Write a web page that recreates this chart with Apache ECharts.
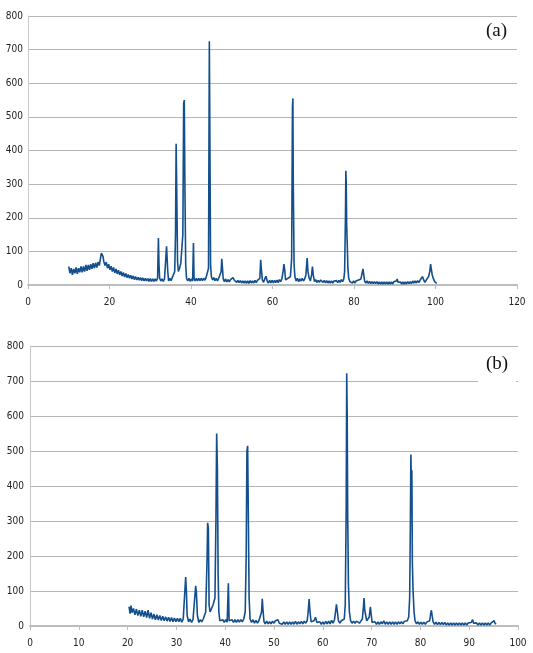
<!DOCTYPE html>
<html>
<head>
<meta charset="utf-8">
<script src="https://cdn.jsdelivr.net/npm/echarts@6/dist/echarts.min.js"></script>
<style>
  html, body { margin: 0; padding: 0; background: #fff; }
  #chart { width: 533px; height: 653px; }
</style>
</head>
<body>
<div id="chart"></div>
<script>
// 2theta (deg) / counts (a)
const scanA = [
  [10.0,55],[10.3,35],[10.6,50],[10.9,30],[11.2,48],[11.5,35],[11.8,52],[12.1,33],[12.4,50],[12.7,38],
  [13.0,55],[13.3,38],[13.6,55],[13.9,40],[14.2,60],[14.5,42],[14.8,60],[15.1,45],[15.4,62],[15.7,48],
  [16.0,65],[16.3,50],[16.6,66],[16.9,52],[17.2,68],[17.5,58],[17.8,80],[18.0,95],[18.2,100],[18.4,85],
  [18.6,70],[18.9,58],[19.2,68],[19.5,50],[19.8,62],[20.1,45],[20.4,56],[20.7,40],[21.0,52],[21.3,36],
  [21.6,48],[21.9,33],[22.2,44],[22.5,30],[22.8,40],[23.1,27],[23.4,37],[23.7,24],[24.0,34],[24.3,22],
  [24.6,31],[24.9,20],[25.2,29],[25.5,18],[25.8,27],[26.1,16],[26.4,25],[26.7,15],[27.0,23],[27.3,14],
  [27.6,22],[27.9,13],[28.2,21],[28.5,12],[28.8,20],[29.1,12],[29.4,19],[29.7,11],[30.0,19],[30.3,11],
  [30.6,18],[30.9,11],[31.2,18],[31.5,12],[31.8,20],[32.0,140],[32.15,60],[32.3,20],[32.6,12],[32.9,18],
  [33.2,11],[33.5,18],[33.8,20],[34.0,115],[34.15,110],[34.3,40],[34.5,12],[34.8,20],[35.1,13],[35.4,22],
  [35.7,20],[36.0,40],[36.2,150],[36.35,420],[36.5,280],[36.7,70],[36.9,40],[37.2,50],[37.5,65],[37.8,60],
  [38.0,150],[38.2,540],[38.35,550],[38.5,300],[38.7,60],[38.9,20],[39.2,12],[39.5,20],[39.8,11],[40.1,18],
  [40.4,12],[40.6,125],[40.75,20],[41.0,12],[41.3,20],[41.6,12],[41.9,20],[42.2,13],[42.5,20],[42.8,13],
  [43.1,20],[43.4,14],[43.7,22],[44.0,22],[44.3,50],[44.5,725],[44.65,400],[44.8,60],[45.0,25],[45.3,15],
  [45.6,22],[45.9,13],[46.2,20],[46.5,12],[46.8,20],[47.1,15],[47.4,40],[47.55,78],[47.7,55],[47.9,18],
  [48.2,10],[48.5,18],[48.8,9],[49.1,16],[49.4,9],[49.7,16],[50.0,12],[50.3,22],[50.6,15],[50.9,20],
  [51.2,8],[51.5,14],[51.8,7],[52.1,13],[52.4,6],[52.7,12],[53.0,6],[53.3,12],[53.6,5],[53.9,12],
  [54.2,5],[54.5,13],[54.8,6],[55.1,12],[55.4,6],[55.7,14],[56.0,7],[56.3,14],[56.6,10],[56.9,20],
  [57.1,75],[57.25,50],[57.5,15],[57.8,8],[58.1,18],[58.4,26],[58.7,12],[59.0,6],[59.3,14],[59.6,6],
  [59.9,14],[60.2,6],[60.5,14],[60.8,7],[61.1,15],[61.4,7],[61.7,16],[62.0,10],[62.3,18],[62.6,40],
  [62.8,62],[63.0,45],[63.2,15],[63.5,12],[63.8,20],[64.1,15],[64.4,25],[64.7,80],[64.9,530],[65.0,555],
  [65.1,300],[65.3,60],[65.5,25],[65.8,12],[66.1,20],[66.4,10],[66.7,18],[67.0,12],[67.3,20],[67.6,12],
  [67.9,18],[68.2,30],[68.5,80],[68.7,40],[69.0,20],[69.3,12],[69.6,30],[69.8,55],[70.0,30],[70.3,10],
  [70.6,16],[70.9,8],[71.2,14],[71.5,8],[71.8,15],[72.1,18],[72.4,8],[72.7,14],[73.0,6],[73.3,13],
  [73.6,6],[73.9,12],[74.2,6],[74.5,12],[74.8,6],[75.1,12],[75.4,7],[75.7,13],[76.0,7],[76.3,14],
  [76.6,8],[76.9,16],[77.2,10],[77.5,18],[77.7,40],[77.9,200],[78.0,340],[78.1,300],[78.2,180],[78.35,120],
  [78.5,50],[78.7,20],[79.0,10],[79.3,14],[79.6,6],[79.9,12],[80.2,6],[80.5,12],[80.8,8],[81.1,15],
  [81.4,10],[81.7,18],[82.0,22],[82.2,48],[82.4,30],[82.6,12],[82.9,6],[83.2,12],[83.5,5],[83.8,11],
  [84.1,4],[84.4,10],[84.7,4],[85.0,10],[85.3,4],[85.6,10],[85.9,3],[86.2,9],[86.5,3],[86.8,9],
  [87.1,3],[87.4,9],[87.7,3],[88.0,9],[88.3,3],[88.6,9],[88.9,3],[89.2,9],[89.5,3],[89.8,10],
  [90.1,6],[90.4,12],[90.6,18],[90.8,8],[91.1,3],[91.4,9],[91.7,3],[92.0,9],[92.3,3],[92.6,9],
  [92.9,3],[93.2,10],[93.5,4],[93.8,10],[94.1,4],[94.4,12],[94.7,6],[95.0,12],[95.3,6],[95.6,13],
  [95.9,7],[96.2,14],[96.5,10],[96.8,25],[97.1,15],[97.4,8],[97.7,14],[98.0,12],[98.3,25],[98.6,40],
  [98.8,62],[99.0,45],[99.2,30],[99.5,18],[99.8,10],[100.1,8],[100.3,5]
];

// pattern (b)
const scanB = [
  [20.3,55],[20.5,35],[20.7,58],[20.9,38],[21.2,50],[21.5,32],[21.8,48],[22.1,30],[22.4,45],[22.7,28],
  [23.0,45],[23.3,26],[23.6,42],[23.9,24],[24.2,45],[24.5,22],[24.8,38],[25.1,20],[25.4,34],[25.7,18],
  [26.0,32],[26.3,17],[26.6,30],[26.9,16],[27.2,28],[27.5,15],[27.8,26],[28.1,14],[28.4,25],[28.7,13],
  [29.0,24],[29.3,12],[29.6,23],[29.9,12],[30.2,22],[30.5,12],[30.8,22],[31.1,11],[31.4,20],[31.7,15],
  [31.9,140],[32.05,100],[32.2,30],[32.5,12],[32.8,20],[33.1,10],[33.4,18],[33.7,15],[33.95,115],[34.1,95],
  [34.3,30],[34.6,10],[34.9,18],[35.2,12],[35.5,20],[35.8,18],[36.0,40],[36.15,120],[36.3,200],[36.4,295],
  [36.55,280],[36.7,60],[36.9,40],[37.2,50],[37.5,60],[37.7,65],[37.9,80],[38.1,300],[38.25,550],[38.4,450],
  [38.55,150],[38.7,40],[38.9,15],[39.2,10],[39.5,18],[39.8,10],[40.1,18],[40.4,11],[40.65,122],[40.8,15],
  [41.1,10],[41.4,18],[41.7,10],[42.0,18],[42.3,10],[42.6,18],[42.9,11],[43.2,18],[43.5,12],[43.8,20],
  [44.1,40],[44.3,200],[44.45,500],[44.6,515],[44.75,300],[44.9,80],[45.1,20],[45.4,10],[45.7,18],[46.0,8],
  [46.3,16],[46.6,8],[46.9,15],[47.2,12],[47.45,40],[47.6,78],[47.75,45],[47.95,12],[48.2,6],[48.5,14],
  [48.8,6],[49.1,12],[49.4,6],[49.7,14],[50.0,8],[50.3,15],[50.6,10],[50.8,18],[51.1,8],[51.4,12],
  [51.7,5],[52.0,12],[52.3,5],[52.6,12],[52.9,5],[53.2,12],[53.5,5],[53.8,12],[54.1,5],[54.4,13],
  [54.7,5],[55.0,12],[55.3,6],[55.6,13],[55.9,6],[56.2,14],[56.5,8],[56.8,15],[57.0,40],[57.2,77],
  [57.35,45],[57.6,12],[57.9,8],[58.2,15],[58.5,25],[58.8,10],[59.1,5],[59.4,12],[59.7,5],[60.0,12],
  [60.3,5],[60.6,13],[60.9,6],[61.2,14],[61.5,6],[61.8,16],[62.1,8],[62.4,18],[62.65,45],[62.8,62],
  [62.95,45],[63.2,15],[63.5,8],[63.8,15],[64.1,10],[64.4,20],[64.6,60],[64.8,350],[64.9,722],[65.0,600],
  [65.1,320],[65.25,120],[65.45,40],[65.7,15],[66.0,8],[66.3,14],[66.6,8],[66.9,14],[67.2,16],[67.5,8],
  [67.8,14],[68.1,20],[68.3,50],[68.45,80],[68.6,45],[68.8,30],[69.0,15],[69.3,10],[69.5,25],[69.75,55],
  [69.9,35],[70.1,10],[70.4,5],[70.7,12],[71.0,5],[71.3,12],[71.6,5],[71.9,12],[72.2,6],[72.5,15],
  [72.8,5],[73.1,12],[73.4,5],[73.7,12],[74.0,5],[74.3,12],[74.6,5],[74.9,12],[75.2,5],[75.5,12],
  [75.8,6],[76.1,12],[76.4,6],[76.7,13],[77.0,8],[77.3,15],[77.6,25],[77.8,80],[77.95,300],[78.05,490],
  [78.15,400],[78.25,445],[78.35,180],[78.5,100],[78.7,40],[78.9,15],[79.2,6],[79.5,12],[79.8,5],[80.1,11],
  [80.4,5],[80.7,11],[81.0,5],[81.3,11],[81.6,8],[81.9,15],[82.1,35],[82.25,45],[82.4,30],[82.6,12],
  [82.9,5],[83.2,11],[83.5,4],[83.8,10],[84.1,4],[84.4,10],[84.7,4],[85.0,10],[85.3,3],[85.6,9],
  [85.9,3],[86.2,9],[86.5,3],[86.8,9],[87.1,3],[87.4,9],[87.7,3],[88.0,9],[88.3,3],[88.6,9],
  [88.9,3],[89.2,9],[89.5,3],[89.8,9],[90.1,4],[90.4,10],[90.7,18],[90.9,8],[91.2,3],[91.5,9],
  [91.8,3],[92.1,9],[92.4,3],[92.7,9],[93.0,3],[93.3,9],[93.6,3],[93.9,9],[94.2,3],[94.5,9],
  [94.8,4],[95.1,15],[95.3,8],[95.5,5]
];

const panelLabels = ['(a)', '(b)'];

const lineColor = '#124f8c';
const gridColor = '#b5b5b5';
const labelFont = "'Liberation Sans Narrow', 'DejaVu Sans Condensed', 'Liberation Sans', Arial, sans-serif";

function xAxisFor(gridIndex, max, interval) {
  return {
    type: 'value',
    gridIndex: gridIndex,
    min: 0,
    max: max,
    interval: interval,
    axisLine: { show: true, lineStyle: { color: '#bdbdbd', width: 2 } },
    axisTick: { show: true, length: 4, lineStyle: { color: '#bdbdbd' } },
    axisLabel: { color: '#222', fontSize: 10, fontFamily: labelFont, margin: 12 },
    splitLine: { show: false }
  }
}

function yAxisFor(gridIndex, margin) {
  return {
    type: 'value',
    gridIndex: gridIndex,
    min: 0,
    max: 800,
    interval: 100,
    axisLine: { show: true, lineStyle: { color: '#c8c8c8', width: 1 } },
    axisTick: { show: false },
    axisLabel: { color: '#222', fontSize: 10, fontFamily: labelFont, margin: margin },
    splitLine: { show: true, lineStyle: { color: gridColor, width: 1 } }
  }
}

const chart = echarts.init(document.getElementById('chart'), null, { renderer: 'canvas' })

chart.setOption({
  backgroundColor: '#fff',
  animation: false,
  grid: [
    { left: 28, right: 16, top: 16, height: 269 },
    { left: 30, right: 15, top: 346, height: 280 }
  ],
  xAxis: [xAxisFor(0, 120, 20), xAxisFor(1, 100, 10)],
  yAxis: [yAxisFor(0, 5), yAxisFor(1, 6)],
  series: [
    {
      type: 'line',
      xAxisIndex: 0,
      yAxisIndex: 0,
      data: scanA,
      showSymbol: false,
      sampling: false,
      lineStyle: { color: lineColor, width: 1.6 },
      z: 3
    },
    {
      type: 'line',
      xAxisIndex: 1,
      yAxisIndex: 1,
      data: scanB,
      showSymbol: false,
      sampling: false,
      lineStyle: { color: lineColor, width: 1.6 },
      z: 3
    }
  ],
  graphic: [
    {
      type: 'text',
      left: 486,
      top: 22,
      style: { text: panelLabels[0], font: "19px 'Liberation Serif', 'Times New Roman', serif", fill: '#111' }
    },
    {
      type: 'rect',
      shape: { x: 478, y: 350, width: 38, height: 36 },
      style: { fill: '#fff' },
      z: 10
    },
    {
      type: 'text',
      left: 486,
      top: 355,
      z: 11,
      style: { text: panelLabels[1], font: "19px 'Liberation Serif', 'Times New Roman', serif", fill: '#111' }
    }
  ]
})
</script>
</body>
</html>
